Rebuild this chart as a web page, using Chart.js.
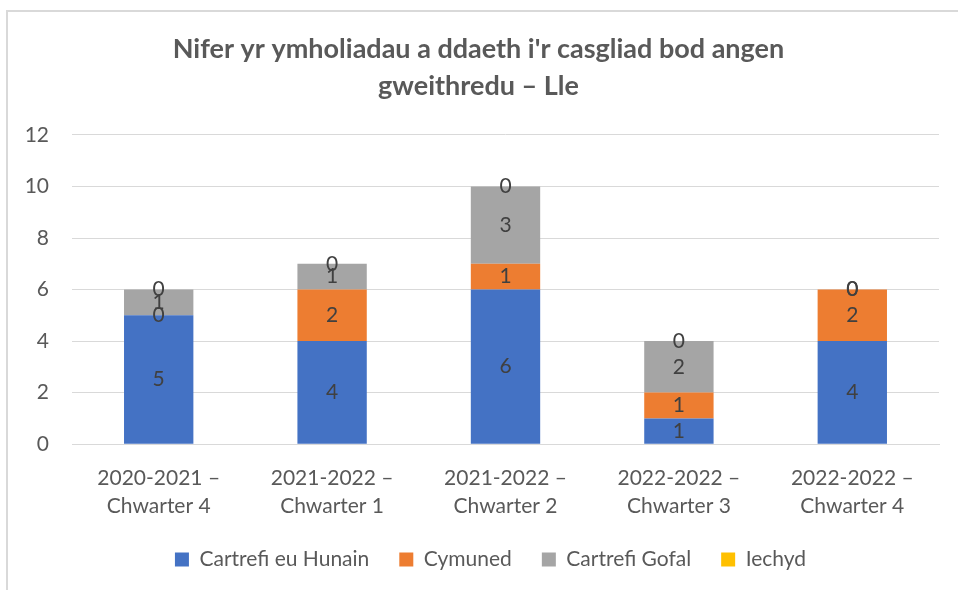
<!DOCTYPE html>
<html>
<head>
<meta charset="utf-8">
<script src="https://cdn.jsdelivr.net/npm/chart.js@4.4.1/dist/chart.umd.min.js"></script>
<style>
  html, body { margin: 0; padding: 0; background: #ffffff; }
  body { width: 958px; height: 590px; overflow: hidden; position: relative; }
  .frame {
    position: absolute; left: 6px; top: 10px; width: 1200px; height: 800px;
    border: 2px solid #D9D9D9; box-sizing: border-box;
  }
  #wrap { position: absolute; left: 0; top: 0; width: 958px; height: 590px; }
</style>
</head>
<body>
<div class="frame"></div>
<div id="wrap"><canvas id="chart" width="958" height="590"></canvas></div>
<script>
// Quarters (category axis)
const categories = [
  ["2020-2021 \u2013", "Chwarter 4"],
  ["2021-2022 \u2013", "Chwarter 1"],
  ["2021-2022 \u2013", "Chwarter 2"],
  ["2022-2022 \u2013", "Chwarter 3"],
  ["2022-2022 \u2013", "Chwarter 4"]
];

// Enquiries by place, one array per series
const cartrefiEuHunain = [5, 4, 6, 1, 4];
const cymuned          = [0, 2, 1, 1, 2];
const cartrefiGofal    = [1, 1, 3, 2, 0];
const iechyd           = [0, 0, 0, 0, 0];

const seriesNames = ["Cartrefi eu Hunain", "Cymuned", "Cartrefi Gofal", "Iechyd"];
const seriesColors = ["#4472C4", "#ED7D31", "#A5A5A5", "#FFC000"];

const yTicks = [0, 2, 4, 6, 8, 10, 12];

const FONT = "Lato, 'Open Sans', sans-serif";

// Value labels in the middle of every stacked segment (zero-height segments sit on the stack top)
const segmentLabels = {
  id: "segmentLabels",
  afterDatasetsDraw(chart) {
    const ctx = chart.ctx;
    ctx.save();
    ctx.font = "21px " + FONT;
    ctx.fillStyle = "#404040";
    ctx.textAlign = "center";
    ctx.textBaseline = "middle";
    chart.data.datasets.forEach((ds, di) => {
      const meta = chart.getDatasetMeta(di);
      if (meta.hidden) return;
      meta.data.forEach((bar, i) => {
        const p = bar.getCenterPoint();
        ctx.fillText(String(ds.data[i]), p.x, p.y);
      });
    });
    ctx.restore();
  }
};

// Nudge the legend row a little to the right of the canvas centre
const legendShift = {
  id: "legendShift",
  afterLayout(chart) {
    const lg = chart.legend;
    if (lg) { lg.left += 12; lg.right += 12; }
  }
};

const datasets = [cartrefiEuHunain, cymuned, cartrefiGofal, iechyd].map((values, k) => ({
  label: seriesNames[k],
  data: values,
  backgroundColor: seriesColors[k],
  borderWidth: 0,
  categoryPercentage: 1.0,
  barPercentage: 0.4,
  stack: "s"
}));

new Chart(document.getElementById("chart"), {
  type: "bar",
  data: { labels: categories, datasets },
  options: {
    responsive: false,
    animation: false,
    devicePixelRatio: 1,
    layout: { padding: { left: 18, right: 19, top: 0, bottom: 10 } },
    scales: {
      x: {
        stacked: true,
        afterFit(scale) { scale.height -= 21; },
        grid: { display: false, drawTicks: false },
        border: { display: true, color: "#D9D9D9", width: 1 },
        ticks: {
          color: "#595959",
          font: { family: FONT, size: 21, lineHeight: 1.33 },
          padding: 20,
          maxRotation: 0,
          autoSkip: false
        }
      },
      y: {
        stacked: true,
        min: 0,
        max: 12,
        afterBuildTicks(scale) { scale.ticks = yTicks.map(v => ({ value: v })); },
        afterFit(scale) { scale.width = 54; },
        grid: { color: "#D9D9D9", lineWidth: 1, drawTicks: false },
        border: { display: false },
        ticks: {
          color: "#595959",
          font: { family: FONT, size: 21 },
          padding: 23
        }
      }
    },
    plugins: {
      title: {
        display: true,
        text: ["Nifer yr ymholiadau a ddaeth i'r casgliad bod angen", "gweithredu \u2013 Lle"],
        color: "#595959",
        font: { family: FONT, size: 27, weight: "bold", lineHeight: 1.37 },
        padding: { top: 31, bottom: 30 }
      },
      legend: {
        position: "bottom",
        labels: {
          color: "#595959",
          font: { family: FONT, size: 21 },
          boxWidth: 14,
          boxHeight: 14,
          padding: 30
        }
      },
      tooltip: { enabled: false }
    }
  },
  plugins: [segmentLabels, legendShift]
});
</script>
</body>
</html>
